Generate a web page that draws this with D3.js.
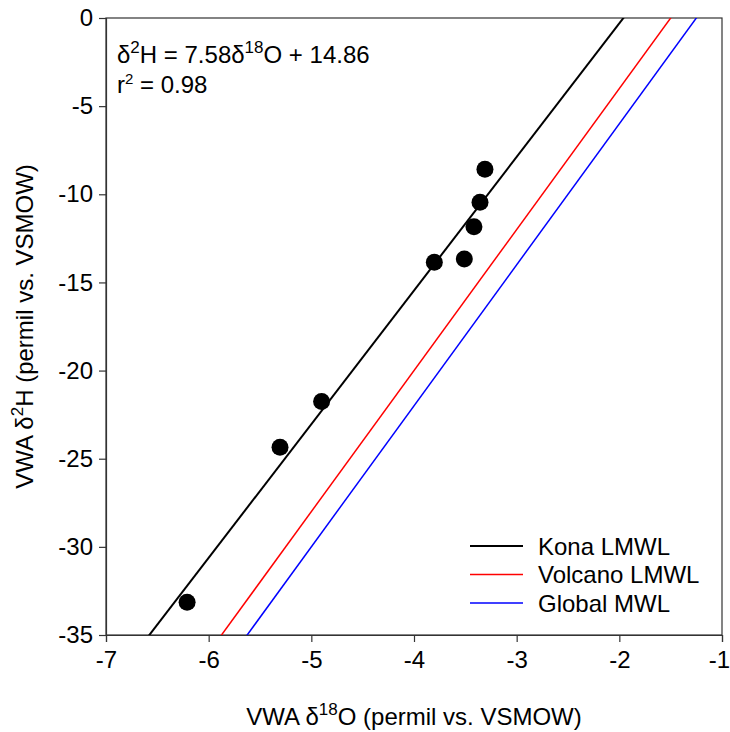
<!DOCTYPE html>
<html>
<head>
<meta charset="utf-8">
<script src="https://d3js.org/d3.v7.min.js"></script>
<style>
  body { margin: 0; background: #fff; }
  svg text { font-family: Arial, "Liberation Sans", sans-serif; fill: #000; }
</style>
</head>
<body>
<svg id="chart" width="730" height="732"></svg>
<script>
// measured samples (VWA d18O, d2H)
var d18O = [-6.21, -5.305, -4.90, -3.802, -3.51, -3.416, -3.357, -3.309];
var d2H = [-33.14, -24.35, -21.76, -13.86, -13.67, -11.84, -10.45, -8.58];

// meteoric water lines: d2H = slope * d18O + intercept
var lineNames = ["Kona LMWL", "Volcano LMWL", "Global MWL"];
var lineSlopes = [7.58, 8, 8];
var lineIntercepts = [14.86, 12, 10];
var lineColors = ["#000000", "#ff0000", "#0000ff"];
var lineWidths = [2, 1.5, 1.5];

var xTicks = [-7, -6, -5, -4, -3, -2, -1];
var yTicks = [0, -5, -10, -15, -20, -25, -30, -35];

var margin = {top: 18, right: 8, bottom: 97, left: 106};
var width = 730 - margin.left - margin.right,
    height = 732 - margin.top - margin.bottom;

var svg = d3.select("#chart");
var g = svg.append("g")
  .attr("transform", "translate(" + margin.left + "," + margin.top + ")");

var x = d3.scaleLinear().domain([-7, -1]).range([0, width]);
var y = d3.scaleLinear().domain([-35, 0]).range([height, 0]);

g.append("clipPath").attr("id", "plotclip")
  .append("rect").attr("width", width).attr("height", height);

// frame
g.append("rect")
  .attr("width", width).attr("height", height)
  .attr("fill", "none").attr("stroke", "#333").attr("stroke-width", 1.2);

var xAxis = g.append("g")
  .attr("transform", "translate(0," + height + ")")
  .call(d3.axisBottom(x).tickValues(xTicks).tickSize(7).tickPadding(9).tickFormat(d3.format("d")));
var yAxis = g.append("g")
  .call(d3.axisLeft(y).tickValues(yTicks).tickSize(7).tickPadding(6).tickFormat(d3.format("d")));

[xAxis, yAxis].forEach(function(a) {
  a.select(".domain").attr("stroke", "#333").attr("stroke-width", 1.2);
  a.selectAll(".tick line").attr("stroke", "#333").attr("stroke-width", 1.2);
  a.selectAll(".tick text").attr("font-size", 24).attr("font-family", "Arial, 'Liberation Sans', sans-serif").attr("fill", "#000");
});
// plain hyphen instead of unicode minus, like the original
g.selectAll(".tick text").text(function(d) { return String(d).replace("\u2212", "-"); });
// last x label sits at the very edge of the picture
xAxis.selectAll(".tick text").filter(function(d) { return d === -1; }).attr("dx", -3);

// water lines
var lines = g.append("g").attr("clip-path", "url(#plotclip)");
lineNames.forEach(function(name, i) {
  var xs = x.domain();
  lines.append("line")
    .attr("x1", x(xs[0])).attr("y1", y(lineSlopes[i] * xs[0] + lineIntercepts[i]))
    .attr("x2", x(xs[1])).attr("y2", y(lineSlopes[i] * xs[1] + lineIntercepts[i]))
    .attr("stroke", lineColors[i]).attr("stroke-width", lineWidths[i]);
});

// points
g.selectAll(".pt")
  .data(d18O)
  .enter().append("circle")
  .attr("class", "pt")
  .attr("cx", function(d) { return x(d); })
  .attr("cy", function(d, i) { return y(d2H[i]); })
  .attr("r", 8.5)
  .attr("fill", "#000");

// equation
var eq = svg.append("text").attr("x", 117).attr("y", 63).attr("font-size", 24);
eq.append("tspan").text("\u03b4");
eq.append("tspan").attr("font-size", 17).attr("dy", -10).text("2");
eq.append("tspan").attr("dy", 10).text("H = 7.58\u03b4");
eq.append("tspan").attr("font-size", 17).attr("dy", -10).text("18");
eq.append("tspan").attr("dy", 10).text("O + 14.86");

var r2 = svg.append("text").attr("x", 117).attr("y", 93).attr("font-size", 24);
r2.append("tspan").text("r");
r2.append("tspan").attr("font-size", 15).attr("dy", -9).text("2");
r2.append("tspan").attr("dy", 9).text(" = 0.98");

// legend
var legend = svg.append("g");
lineNames.forEach(function(name, i) {
  var ly = 546 + i * 28.5;
  legend.append("line")
    .attr("x1", 470).attr("x2", 523).attr("y1", ly).attr("y2", ly)
    .attr("stroke", lineColors[i]).attr("stroke-width", lineWidths[i]);
  legend.append("text")
    .attr("x", 538).attr("y", ly + 8.5)
    .attr("font-size", 24)
    .text(name);
});

// axis titles
var xt = svg.append("text")
  .attr("x", margin.left + width / 2).attr("y", 725)
  .attr("text-anchor", "middle").attr("font-size", 24);
xt.append("tspan").text("VWA \u03b4");
xt.append("tspan").attr("font-size", 17).attr("dy", -10).text("18");
xt.append("tspan").attr("dy", 10).text("O (permil vs. VSMOW)");

var yt = svg.append("text")
  .attr("transform", "translate(33," + (margin.top + height / 2) + ") rotate(-90)")
  .attr("text-anchor", "middle").attr("font-size", 24);
yt.append("tspan").text("VWA \u03b4");
yt.append("tspan").attr("font-size", 17).attr("dy", -10).text("2");
yt.append("tspan").attr("dy", 10).text("H (permil vs. VSMOW)");
</script>
</body>
</html>
